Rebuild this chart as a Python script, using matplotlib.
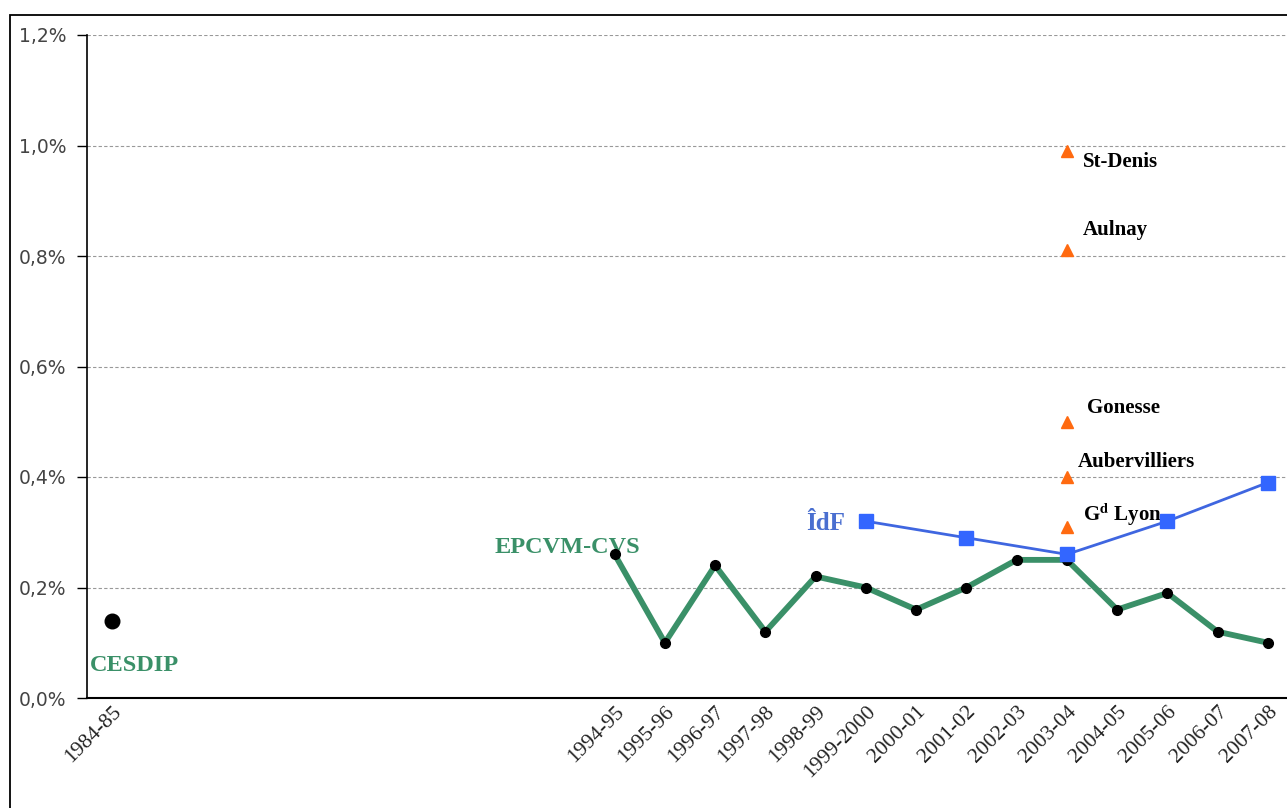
import matplotlib
matplotlib.use("Agg")
import matplotlib.pyplot as plt
from matplotlib.patches import Rectangle

plt.rcParams['mathtext.fontset'] = 'stix'

# ---- data ----
categories = ["1984-85", "1985-86", "1986-87", "1987-88", "1988-89", "1989-90",
              "1990-91", "1991-92", "1992-93", "1993-94",
              "1994-95", "1995-96", "1996-97", "1997-98", "1998-99", "1999-2000",
              "2000-01", "2001-02", "2002-03", "2003-04", "2004-05", "2005-06",
              "2006-07", "2007-08"]
shown_labels = ["1984-85", "1994-95", "1995-96", "1996-97", "1997-98", "1998-99",
                "1999-2000", "2000-01", "2001-02", "2002-03", "2003-04", "2004-05",
                "2005-06", "2006-07", "2007-08"]

cesdip_cat = ["1984-85"]
cesdip_val = [0.14]

epcvm_cat = ["1994-95", "1995-96", "1996-97", "1997-98", "1998-99", "1999-2000",
             "2000-01", "2001-02", "2002-03", "2003-04", "2004-05", "2005-06",
             "2006-07", "2007-08"]
epcvm_val = [0.26, 0.10, 0.24, 0.12, 0.22, 0.20, 0.16, 0.20, 0.25, 0.25,
             0.16, 0.19, 0.12, 0.10]

idf_cat = ["1999-2000", "2001-02", "2003-04", "2005-06", "2007-08"]
idf_val = [0.32, 0.29, 0.26, 0.32, 0.39]

city_names = ["St-Denis", "Aulnay", "Gonesse", "Aubervilliers", r"G$^{\mathbf{d}}$ Lyon"]
city_cat = "2003-04"
city_val = [0.99, 0.81, 0.50, 0.40, 0.31]

yticks = [0.0, 0.2, 0.4, 0.6, 0.8, 1.0, 1.2]

idx = {c: i for i, c in enumerate(categories)}

fig = plt.figure(figsize=(12.87, 8.08), dpi=100)
W, H = 1287, 808
# outer frame
fig.patches.append(Rectangle((10 / W, -0.05), 1.2, 1 - 15 / H + 0.05, transform=fig.transFigure,
                             fill=False, edgecolor='black', linewidth=1.3))

left, right, top, bottom = 87, 1293, 35, 698
ax = fig.add_axes([left / W, 1 - bottom / H, (right - left) / W, (bottom - top) / H])
ax.set_xlim(-0.5, len(categories) - 0.5)
ax.set_ylim(0, 1.2)

for s in ['top', 'right']:
    ax.spines[s].set_visible(False)
ax.spines['left'].set_linewidth(1.2)
ax.spines['bottom'].set_linewidth(1.5)

ax.set_yticks(yticks)
ax.set_yticklabels([f"{v:.1f}".replace('.', ',') + "%" for v in yticks],
                   fontsize=13.5, color='#444444', family='DejaVu Sans')
ax.tick_params(axis='y', length=7, width=1, pad=8)
ax.yaxis.grid(True, linestyle=(0, (3, 2)), color='#999999', linewidth=0.8)
ax.set_axisbelow(True)

ax.set_xticks(range(len(categories)))
ax.set_xticklabels([c if c in shown_labels else "" for c in categories],
                   rotation=45, ha='right', rotation_mode='anchor',
                   fontsize=15.5, family='Liberation Serif', color='#222222')
ax.tick_params(axis='x', length=0, pad=3)

green = '#3a9068'
ex = [idx[c] for c in epcvm_cat]
ax.plot(ex, epcvm_val, color=green, linewidth=4.2, zorder=3, solid_joinstyle='miter')
ax.plot(ex, epcvm_val, linestyle='none', marker='o', markersize=7, color='black', zorder=4)

ax.plot([idx[c] for c in cesdip_cat], cesdip_val, linestyle='none', marker='o',
        markersize=10.5, color='black', zorder=4)

ix = [idx[c] for c in idf_cat]
ax.plot(ix, idf_val, color='#3f66e0', linewidth=2.0, zorder=5)
ax.plot(ix, idf_val, linestyle='none', marker='s', markersize=9.5, color='#3366ff', zorder=6)

cx = idx[city_cat]
ax.plot([cx] * len(city_val), city_val, linestyle='none', marker='^', markersize=8.5,
        color='#ff6a10', zorder=6)

serif = 'Liberation Serif'
ax.text(-0.45, 0.058, "CESDIP", color=green, fontsize=17.5, fontweight='bold',
        family=serif, ha='left', va='center')
ax.text(10.5, 0.273, "EPCVM-CVS", color=green, fontsize=17.5, fontweight='bold',
        family=serif, ha='right', va='center')
ax.text(14.58, 0.315, "ÎdF", color='#4a6fd0', fontsize=18, fontweight='bold',
        family=serif, ha='right', va='center')

label_pos = [(19.32, 0.970), (19.32, 0.847), (19.4, 0.525), (19.22, 0.427), (19.32, 0.331)]
for name, (lx, ly) in zip(city_names, label_pos):
    ax.text(lx, ly, name, color='black', fontsize=15, fontweight='bold',
            family=serif, ha='left', va='center')

fig.savefig("out.png", dpi=100)
